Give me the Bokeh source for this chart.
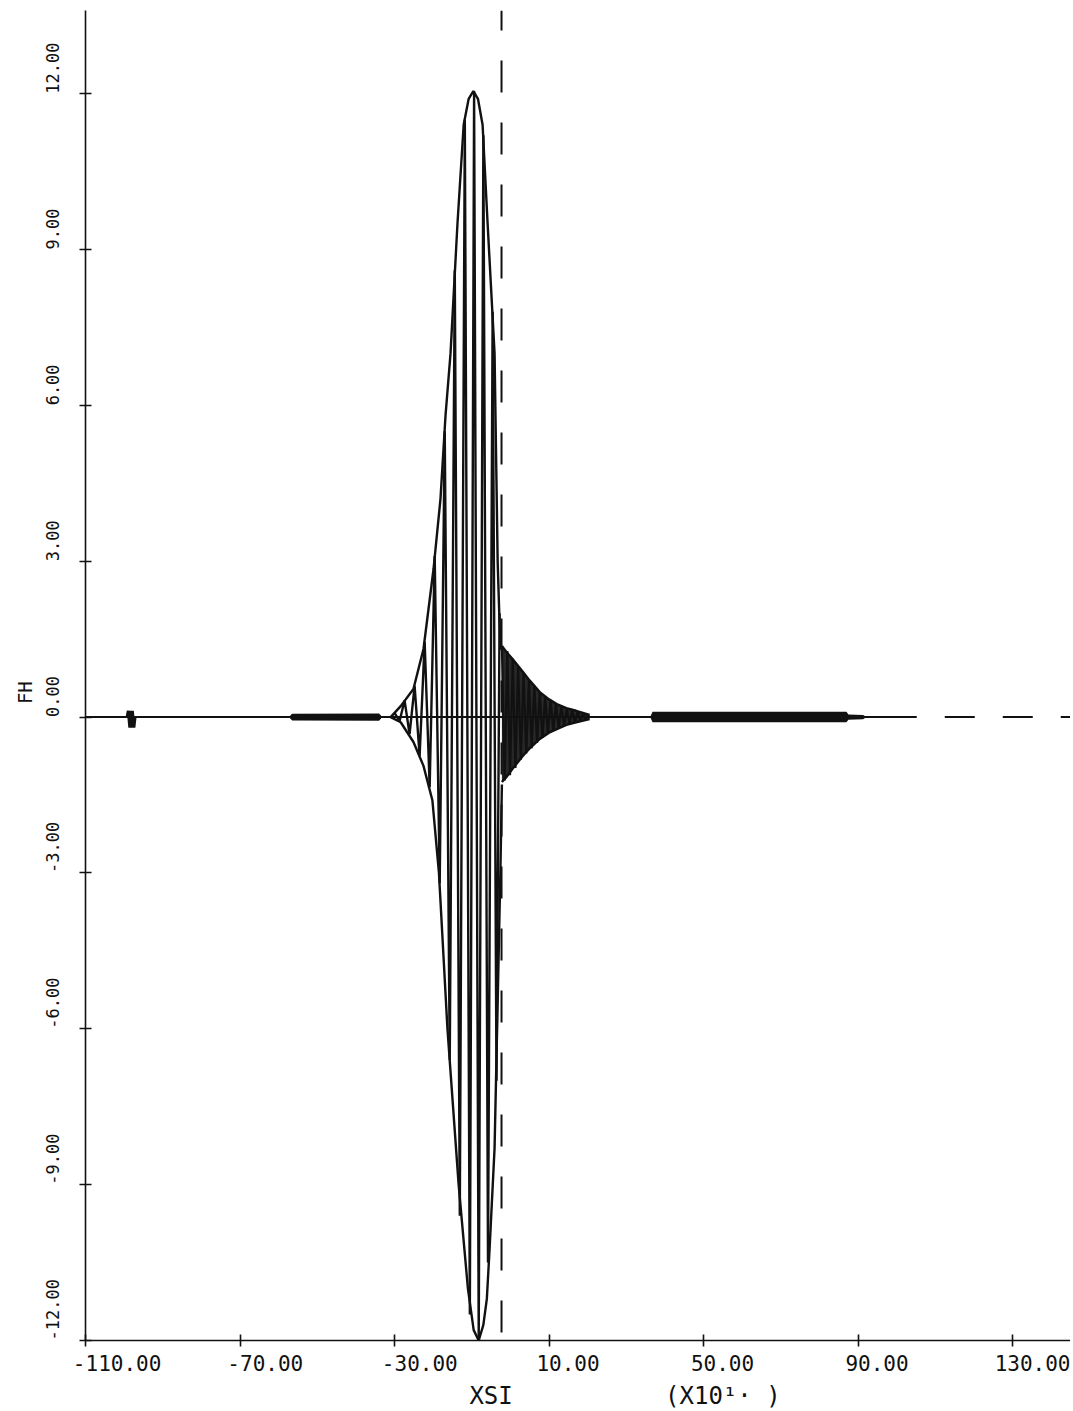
from bokeh.plotting import figure
from bokeh.models import Range1d, FixedTicker, LinearAxis
from bokeh.embed import file_html
from bokeh.resources import INLINE

NB = "\u00a0"

# ---- axes ----
x_ticks = [-110, -70, -30, 10, 50, 90, 130]
x_tick_labels = ["-110.00", "-70.00", "-30.00", "10.00", "50.00", "90.00", "130.00"]
y_ticks = [-12, -9, -6, -3, 0, 3, 6, 9, 12]
y_tick_labels = ["-12.00", "-9.00", "-6.00", "-3.00", "0.00", "3.00", "6.00", "9.00", "12.00"]
x_title_pos = [-5, 55]
x_title_text = ["XSI", "(X10¹· )"]
y_title = "FH"

# ---- main wave packet: turning points of FH(XSI) ----
main_x = [-30.0, -28.7, -27.4, -26.1, -24.8, -23.5, -22.2, -20.9, -19.6, -18.3, -17.0, -15.7,
          -14.4, -13.1, -11.8, -10.5, -9.4, -8.2, -7.0, -5.8, -4.6, -3.6, -2.8]
main_y = [0.08, -0.08, 0.32, -0.33, 0.6, -0.75, 1.45, -1.35, 3.1, -3.2, 5.5, -6.6,
          8.6, -9.6, 11.5, -11.5, 12.05, -12.0, 11.2, -10.5, 7.8, -7.0, 2.0]

# envelope of the packet
env_up_x = [-31.0, -28.4, -25.1, -22.5, -19.9, -18.1, -16.8, -15.5, -13.7, -12.1, -10.8, -9.6,
            -8.4, -7.2, -5.9, -4.1, -3.3, -2.6]
env_up_y = [0.0, 0.21, 0.54, 1.31, 2.85, 4.2, 5.8, 7.0, 9.5, 11.4, 11.9, 12.05,
            11.9, 11.4, 9.5, 7.0, 3.0, 1.3]
env_lo_x = [-31.0, -28.4, -25.1, -22.5, -20.2, -18.5, -16.3, -13.4, -11.0, -9.5, -8.2, -7.0,
            -6.1, -5.4, -4.1, -3.3, -2.6, -2.2]
env_lo_y = [0.0, -0.1, -0.48, -0.94, -1.6, -3.0, -6.0, -9.0, -11.0, -11.8, -12.0, -11.7,
            -11.2, -10.25, -8.3, -5.5, -3.0, -1.3]

# ---- transmitted ripple right of the divider ----
right_x = [-2.2, -1.5, -0.8, -0.1, 0.6, 1.3, 2.0, 2.7, 3.4, 4.1, 4.8, 5.5, 6.2, 6.9, 7.6, 8.3,
           9.0, 9.7, 10.4, 11.1, 11.8, 12.5, 13.2, 13.9, 14.6, 15.3, 16.0, 16.7, 17.4, 18.1,
           18.8, 19.5, 20.2]
right_y = [1.37, -1.22, 1.27, -1.12, 1.12, -0.98, 0.98, -0.82, 0.85, -0.7, 0.72, -0.6, 0.6,
           -0.5, 0.48, -0.4, 0.4, -0.32, 0.33, -0.26, 0.26, -0.21, 0.21, -0.17, 0.17, -0.13,
           0.14, -0.11, 0.11, -0.08, 0.08, -0.06, 0.05]
right_env_x = [-2.2, -1.0, 0.5, 2.0, 3.2, 5.0, 7.6, 10.0, 12.0, 14.5, 17.0, 20.5]
right_env_up = [1.37, 1.25, 1.12, 0.98, 0.87, 0.7, 0.48, 0.34, 0.25, 0.17, 0.12, 0.04]
right_env_lo = [-1.25, -1.15, -1.0, -0.86, -0.75, -0.6, -0.42, -0.3, -0.23, -0.15, -0.1, -0.04]

# ---- small features ----
band_r_x = [20.6, 36.3, 36.8, 60.0, 87.0, 87.5, 91.3, 92.0]
band_r_up = [0.02, 0.02, 0.1, 0.1, 0.1, 0.05, 0.04, 0.01]
band_r_lo = [-0.02, -0.02, -0.1, -0.1, -0.1, -0.05, -0.04, -0.01]
band_l_x = [-57.0, -56.5, -34.0, -33.5]
band_l_up = [0.03, 0.065, 0.07, 0.03]
band_l_lo = [-0.03, -0.065, -0.07, -0.03]
blob_x = [-99.1, -98.8, -98.4, -98.0, -97.6, -97.3]
blob_y = [0.0, 0.12, -0.2, 0.12, -0.2, 0.0]

base_x = [-110.0, 105.2]
base_y = [0.0, 0.0]
tail_x = [105.2, 145.0]
tail_y = [0.0, 0.0]
divider_x = [-2.3, -2.3]
divider_y = [13.6, -12.0]

FONT = "DejaVu Sans Mono"
INK = "#111111"

p = figure(frame_width=985, frame_height=1330,
           x_range=Range1d(-110, 145.0), y_range=Range1d(-12, 13.6),
           output_backend="svg", toolbar_location=None,
           min_border_left=85, min_border_right=0, min_border_top=10, min_border_bottom=0)
p.outline_line_color = None
p.grid.visible = False
p.background_fill_color = "white"
p.border_fill_color = "white"

for ax in (p.xaxis, p.yaxis):
    ax.axis_line_color = INK
    ax.axis_line_width = 1.6
    ax.major_tick_line_color = INK
    ax.major_tick_line_width = 1.6
    ax.major_tick_in = 6
    ax.major_tick_out = 6
    ax.minor_tick_line_color = None
    ax.major_label_text_font = FONT
    ax.major_label_text_color = INK

# x labels start just left of their tick (plotter style): pad on the left
p.xaxis.ticker = FixedTicker(ticks=x_ticks)
p.xaxis.major_label_overrides = {t: NB * (len(s) - 2) + s for t, s in zip(x_ticks, x_tick_labels)}
p.xaxis.major_label_text_font_size = "21px"
p.xaxis.major_label_standoff = 5

# y labels run upward from their tick
p.yaxis.ticker = FixedTicker(ticks=y_ticks)
p.yaxis.major_label_overrides = {t: NB * len(s) + s for t, s in zip(y_ticks, y_tick_labels)}
p.yaxis.major_label_orientation = "vertical"
p.yaxis.major_label_text_font_size = "17px"
p.yaxis.major_label_standoff = 17
p.yaxis.axis_label = y_title + NB * 3
p.yaxis.axis_label_text_font = FONT
p.yaxis.axis_label_text_font_style = "normal"
p.yaxis.axis_label_text_font_size = "19px"
p.yaxis.axis_label_text_color = INK
p.yaxis.axis_label_standoff = 4

# second row under the x axis for the axis title pieces
title_axis = LinearAxis(ticker=FixedTicker(ticks=x_title_pos),
                        major_label_overrides=dict(zip(x_title_pos, x_title_text)),
                        axis_line_color=None, major_tick_line_color=None,
                        minor_tick_line_color=None, major_tick_in=0, major_tick_out=0,
                        major_label_standoff=3, major_label_text_font=FONT,
                        major_label_text_font_size="24px", major_label_text_color=INK)
p.add_layout(title_axis, "below")

# baseline and bands
p.line(base_x, base_y, line_color=INK, line_width=2)
p.line(tail_x, tail_y, line_color=INK, line_width=2, line_dash="30 28", line_dash_offset=30)
p.varea(x=band_r_x, y1=band_r_lo, y2=band_r_up, fill_color=INK)
p.varea(x=band_l_x, y1=band_l_lo, y2=band_l_up, fill_color=INK)
p.line(blob_x, blob_y, line_color=INK, line_width=4)

# packet
p.line(main_x, main_y, line_color=INK, line_width=2.4)
p.line(env_up_x, env_up_y, line_color=INK, line_width=2.4)
p.line(env_lo_x, env_lo_y, line_color=INK, line_width=2.4)
p.varea(x=right_env_x, y1=right_env_lo, y2=right_env_up, fill_color=INK, fill_alpha=0.9)
p.line(right_x, right_y, line_color=INK, line_width=2.2)
p.line(right_env_x, right_env_up, line_color=INK, line_width=2.5)
p.line(right_env_x, right_env_lo, line_color=INK, line_width=2.5)

# divider
p.line(divider_x, divider_y, line_color=INK, line_width=2, line_dash="32 30", line_dash_offset=12)

open("out.html", "w").write(file_html(p, INLINE))
